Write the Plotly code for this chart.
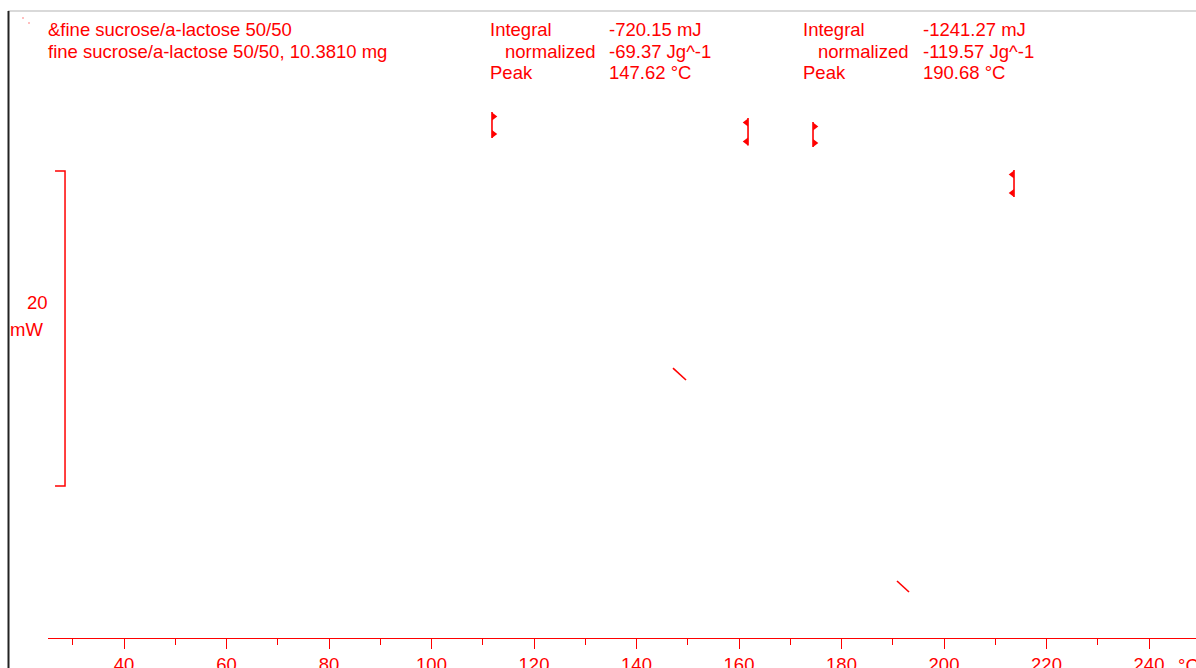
import plotly.graph_objects as go

# ---------------- data ----------------
sample_title = "&fine sucrose/a-lactose 50/50"
sample_label = "fine sucrose/a-lactose 50/50, 10.3810 mg"

integral_mJ = ["-720.15 mJ", "-1241.27 mJ"]
normalized_Jg = ["-69.37 Jg^-1", "-119.57 Jg^-1"]
peak_C = ["147.62 °C", "190.68 °C"]

# visible parts of the DSC curve (temperature °C, heat flow mW)
seg1_T = [147.12, 149.66]
seg1_mW = [17.14, 16.38]
seg2_T = [190.83, 193.17]
seg2_mW = [3.62, 2.92]

# integration limits (temperature, top and bottom of limit marker in mW, direction)
limit_T = [111.80, 161.76, 174.44, 213.66]
limit_top = [33.40, 33.02, 32.76, 29.71]
limit_bot = [31.75, 31.27, 31.17, 28.00]
limit_dir = ["right", "left", "right", "left"]

# scale bar
scale_mW = 20
scale_base = 9.65
scale_T = 28.49
scale_T_tick = 26.54

x_ticks = [40, 60, 80, 100, 120, 140, 160, 180, 200, 220, 240]

# ---------------- layout constants ----------------
W, H = 1196, 668
RED = "#ff0000"
FONT = "Liberation Sans"
FS = 18.5
PX_PER_DEG = 5.125
PX_PER_MW = 15.75
x_range = [25.11, 249.17]
y_range = [0, 39.81]


def px(x):
    return x / W


def py(y):
    return (H - y) / H


fig = go.Figure()

# curve segments
for T, Y in [(seg1_T, seg1_mW), (seg2_T, seg2_mW)]:
    fig.add_trace(go.Scatter(x=T, y=Y, mode="lines",
                             line=dict(color=RED, width=1.6), hoverinfo="skip"))

# integration limit markers
for T, yt, yb, d in zip(limit_T, limit_top, limit_bot, limit_dir):
    fig.add_trace(go.Scatter(x=[T, T], y=[yt, yb], mode="lines",
                             line=dict(color=RED, width=1.6), hoverinfo="skip"))
    sgn = 1 if d == "right" else -1
    off = sgn * 1.8 / PX_PER_DEG
    fig.add_trace(go.Scatter(
        x=[T + off, T + off],
        y=[yt - 4.5 / PX_PER_MW, yb + 4.0 / PX_PER_MW],
        mode="markers",
        marker=dict(symbol="triangle-" + d, size=7, color=RED, line=dict(width=0)),
        hoverinfo="skip"))

# 20 mW scale bar
fig.add_trace(go.Scatter(
    x=[scale_T_tick, scale_T, scale_T, scale_T_tick],
    y=[scale_base + scale_mW, scale_base + scale_mW, scale_base, scale_base],
    mode="lines", line=dict(color=RED, width=1.5), hoverinfo="skip"))

fig.update_layout(
    width=W, height=H,
    margin=dict(l=0, r=0, t=0, b=0, autoexpand=False),
    paper_bgcolor="white", plot_bgcolor="white",
    showlegend=False,
    font=dict(family=FONT, size=FS, color=RED),
    xaxis=dict(
        domain=[47.7 / W, 1], range=x_range, automargin=False,
        showgrid=False, zeroline=False,
        showline=True, linecolor=RED, linewidth=1,
        ticks="outside", ticklen=10, tickwidth=1, tickcolor=RED,
        tickvals=x_ticks, ticktext=[str(t) for t in x_ticks],
        tickfont=dict(family=FONT, size=FS, color=RED),
        minor=dict(ticks="outside", ticklen=6, tickwidth=1, tickcolor=RED,
                   dtick=10, tick0=30),
    ),
    yaxis=dict(
        domain=[py(638), py(11)], range=y_range, automargin=False,
        visible=False, showgrid=False, zeroline=False,
    ),
)

ann = []


def text(s, x, y, xanchor="left"):
    ann.append(dict(text=s, x=px(x), y=py(y), xref="paper", yref="paper",
                    xanchor=xanchor, yanchor="middle", showarrow=False,
                    font=dict(family=FONT, size=FS, color=RED)))


text(sample_title, 46, 30)
text(sample_label, 46, 51.5)

for bx, vx, i in [(488, 607, 0), (801, 921, 1)]:
    text("Integral", bx, 30)
    text(integral_mJ[i], vx, 30)
    text("normalized", bx + 14.5, 51.5)
    text(normalized_Jg[i], vx, 51.5)
    text("Peak", bx, 73)
    text(peak_C[i], vx, 73)

text(str(scale_mW), 50, 302.5, xanchor="right")
text("mW", 45, 330, xanchor="right")
text("°C", 1176, 665)

fig.update_layout(annotations=ann)

# frame lines
fig.add_shape(type="line", xref="paper", yref="paper",
              x0=px(8), x1=1, y0=py(11), y1=py(11),
              line=dict(color="#b4b4b4", width=1.2))
fig.add_shape(type="line", xref="paper", yref="paper",
              x0=px(8.5), x1=px(8.5), y0=py(11), y1=0,
              line=dict(color="#222222", width=2))
# tiny dots near the top-left corner
for dx, dy in [(23, 18), (29, 23)]:
    fig.add_shape(type="rect", xref="paper", yref="paper",
                  x0=px(dx - 0.5), x1=px(dx + 0.5), y0=py(dy + 0.5), y1=py(dy - 0.5),
                  line=dict(width=0), fillcolor=RED)

fig.write_html("out.html")
